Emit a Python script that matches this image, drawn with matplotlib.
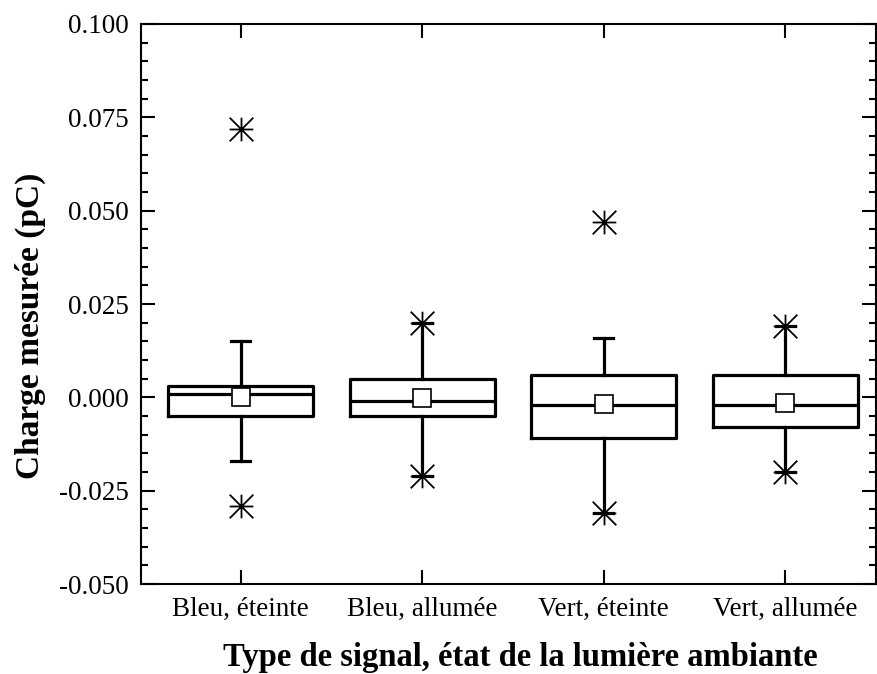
#!/usr/bin/env python3

import numpy as np
import matplotlib
matplotlib.use("Agg")
import matplotlib.pyplot as plt
from matplotlib.path import Path
from matplotlib.ticker import MultipleLocator

categories = ["Bleu, éteinte", "Bleu, allumée", "Vert, éteinte", "Vert, allumée"]
q1 = [-0.005, -0.005, -0.011, -0.008]
med = [0.001, -0.001, -0.002, -0.002]
q3 = [0.003, 0.005, 0.006, 0.006]
whislo = [-0.017, -0.021, -0.031, -0.020]
whishi = [0.015, 0.020, 0.016, 0.019]
means = [0.000, -0.0003, -0.0018, -0.0014]
mins = [-0.029, -0.021, -0.031, -0.020]
maxs = [0.072, 0.020, 0.047, 0.019]

plt.rcParams['font.family'] = ['Liberation Serif', 'DejaVu Serif']

# Origin-style star: plus plus an x going to the square corners
starVerts = [(-1, 0), (1, 0), (0, -1), (0, 1), (-1, -1), (1, 1), (-1, 1), (1, -1)]
starCodes = [Path.MOVETO, Path.LINETO] * 4
starMarker = Path(starVerts, starCodes)

def main():
    fig = plt.figure(figsize=(8.78, 6.74), dpi=100)
    ax = fig.add_axes([0.1606, 0.1335, 0.8371, 0.8309])

    stats = []
    for i in range(len(categories)):
        stats.append({
            'label': categories[i],
            'q1': q1[i], 'med': med[i], 'q3': q3[i],
            'whislo': whislo[i], 'whishi': whishi[i],
            'mean': means[i],
            'fliers': [mins[i], maxs[i]],
        })

    pos = np.arange(1, len(categories) + 1)
    ax.bxp(stats, positions=pos, widths=0.8, capwidths=0.105,
           showmeans=True, showfliers=True, patch_artist=False,
           boxprops=dict(color='black', linewidth=2.3),
           medianprops=dict(color='black', linewidth=2.3),
           whiskerprops=dict(color='black', linewidth=2.3),
           capprops=dict(color='black', linewidth=2.3),
           meanprops=dict(marker='s', markersize=13, markerfacecolor='white',
                          markeredgecolor='black', markeredgewidth=1.2),
           flierprops=dict(marker=starMarker, markersize=17, markeredgecolor='black',
                           markerfacecolor='none', markeredgewidth=1.3, linestyle='none'))

    ax.set_xlim(0.45, 4.5)
    ax.set_ylim(-0.05, 0.1)
    ax.set_xticks(pos)
    ax.set_xticklabels(categories)
    ax.yaxis.set_major_locator(MultipleLocator(0.025))
    ax.yaxis.set_minor_locator(MultipleLocator(0.005))
    ax.yaxis.set_major_formatter(plt.FormatStrFormatter('%.3f'))

    ax.tick_params(axis='both', which='major', direction='in', length=10, width=1.5,
                   labelsize=19.5, top=True, right=True, pad=9)
    ax.tick_params(axis='y', which='minor', direction='in', length=5, width=1.5,
                   right=True)
    for s in ax.spines.values():
        s.set_linewidth(1.5)

    ax.set_ylabel("Charge mesurée (pC)", fontsize=24, fontweight='bold')
    ax.set_xlabel("Type de signal, état de la lumière ambiante", fontsize=23.5,
                  fontweight='bold', va='baseline')
    ax.yaxis.set_label_coords(-0.129, 0.461)
    ax.xaxis.set_label_coords(0.516, -0.147)

    fig.savefig("out.png", dpi=100)

if __name__ == "__main__":
    main()
